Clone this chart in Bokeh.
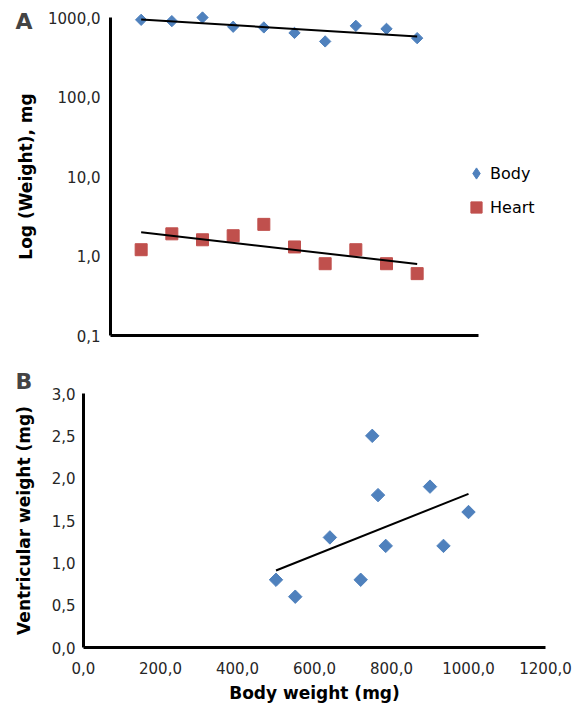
import numpy as np
from bokeh.plotting import figure
from bokeh.layouts import column
from bokeh.models import (FixedTicker, CustomJSTickFormatter, Legend, LegendItem,
                          Label, Range1d)
from bokeh.embed import file_html
from bokeh.resources import INLINE

# ---- data ----
sample_index = [1, 2, 3, 4, 5, 6, 7, 8, 9, 10]
body_weight_mg = [935, 900, 1000, 765, 750, 640, 500, 785, 720, 550]
heart_weight_mg = [1.2, 1.9, 1.6, 1.8, 2.5, 1.3, 0.8, 1.2, 0.8, 0.6]
log_ticks = [0.1, 1, 10, 100, 1000]
index_bounds = [0, 12]
body_ticks = [0, 200, 400, 600, 800, 1000, 1200]
vent_ticks = [0, 0.5, 1.0, 1.5, 2.0, 2.5, 3.0]

BLUE = "#4F81BD"
RED = "#C0504D"
comma_fmt = CustomJSTickFormatter(code="return tick.toFixed(1).replace('.', ',');")

# ---- layout geometry (pixels) ----
W, HA, HB = 583, 362, 343
A_x0, A_x12 = 110, 478          # x=0 / x=12 of panel A
A_ylo, A_yhi = 335, 17          # y=0.1 / y=1000 of panel A
B_x0, B_x1200 = 83, 545         # x=0 / x=1200 of panel B
B_y0, B_y3 = 285, 31            # y=0 / y=3 of panel B (figure coords)


def style_axes(p):
    p.outline_line_color = None
    p.xgrid.grid_line_color = None
    p.ygrid.grid_line_color = None
    for ax in (p.xaxis[0], p.yaxis[0]):
        ax.axis_line_color = "black"
        ax.axis_line_width = 3
        ax.major_tick_line_color = None
        ax.minor_tick_line_color = None
        ax.major_tick_out = 0
        ax.major_tick_in = 0
        ax.minor_tick_out = 0
        ax.minor_tick_in = 0
        ax.major_label_text_font = "DejaVu Sans"
        ax.major_label_text_font_size = "15px"
        ax.major_label_text_color = "#262626"
        ax.axis_label_text_font = "DejaVu Sans"
        ax.axis_label_text_font_style = "bold"
        ax.axis_label_text_font_size = "17px"
        ax.axis_label_text_color = "black"


# ---- Panel A ----
xsA = (A_x12 - A_x0) / index_bounds[1]
decA = (A_ylo - A_yhi) / (np.log10(log_ticks[-1]) - np.log10(log_ticks[0]))
xrA = Range1d(-A_x0 / xsA, (W - A_x0) / xsA)
yrA = Range1d(log_ticks[0] * 10 ** (-(HA - A_ylo) / decA),
              log_ticks[-1] * 10 ** (A_yhi / decA))

pA = figure(width=W, height=HA, output_backend="svg", toolbar_location=None,
            y_axis_type="log", x_range=xrA, y_range=yrA, title=None,
            min_border=0, min_border_left=0, min_border_right=0,
            min_border_top=0, min_border_bottom=0)
style_axes(pA)
pA.xaxis.ticker = FixedTicker(ticks=[])
pA.xaxis.fixed_location = log_ticks[0]
pA.xaxis.bounds = tuple(index_bounds)
pA.yaxis.ticker = FixedTicker(ticks=log_ticks)
pA.yaxis.formatter = comma_fmt
pA.yaxis.fixed_location = 0
pA.yaxis.bounds = (log_ticks[0], log_ticks[-1])
pA.yaxis.major_label_standoff = 10
pA.yaxis.axis_label = "Log (Weight), mg"
pA.yaxis.axis_label_standoff = 9

r_body = pA.scatter(sample_index, body_weight_mg, marker="square", angle=np.pi / 4,
                    size=8, color=BLUE)
r_heart = pA.scatter(sample_index, heart_weight_mg, marker="square", size=12, color=RED)
# hidden twin of the Body series, used only to draw a diamond key in the legend
r_body_key = pA.scatter(sample_index, body_weight_mg, marker="diamond", size=12,
                        color=BLUE, visible=False)

xi = np.array(sample_index, dtype=float)
xe = np.array([xi.min(), xi.max()])
b1, a1 = np.polyfit(xi, np.log10(body_weight_mg), 1)
pA.line(xe, 10 ** (a1 + b1 * xe), line_color="black", line_width=2)
b2, a2 = np.polyfit(xi, np.log10(heart_weight_mg), 1)
pA.line(xe, 10 ** (a2 + b2 * xe), line_color="black", line_width=2)

legend = Legend(items=[LegendItem(label="Body", renderers=[r_body_key]),
                       LegendItem(label="Heart", renderers=[r_heart])],
                location=(462, HA - 221), orientation="vertical",
                glyph_width=28, glyph_height=28, label_height=28, spacing=6,
                label_standoff=0, padding=0, margin=0, click_policy="none",
                border_line_color=None, background_fill_alpha=0,
                label_text_font="DejaVu Sans", label_text_font_size="16px",
                label_text_color="black")
pA.add_layout(legend)

pA.add_layout(Label(x=15, y=HA - 21, x_units="screen", y_units="screen", text="A",
                    text_font="DejaVu Sans", text_font_style="bold",
                    text_font_size="22px", text_baseline="alphabetic"))

# ---- Panel B ----
xsB = (B_x1200 - B_x0) / body_ticks[-1]
ysB = (B_y0 - B_y3) / vent_ticks[-1]
xrB = Range1d(-B_x0 / xsB, (W - B_x0) / xsB)
yrB = Range1d(-(HB - B_y0) / ysB, vent_ticks[-1] + B_y3 / ysB)

pB = figure(width=W, height=HB, output_backend="svg", toolbar_location=None,
            x_range=xrB, y_range=yrB, title=None,
            min_border=0, min_border_left=0, min_border_right=0,
            min_border_top=0, min_border_bottom=0)
style_axes(pB)
pB.xaxis.ticker = FixedTicker(ticks=body_ticks)
pB.yaxis.ticker = FixedTicker(ticks=vent_ticks)
pB.xaxis.formatter = comma_fmt
pB.yaxis.formatter = comma_fmt
pB.xaxis.fixed_location = 0
pB.yaxis.fixed_location = 0
pB.xaxis.bounds = (body_ticks[0], body_ticks[-1])
pB.yaxis.bounds = (vent_ticks[0], vent_ticks[-1])
pB.xaxis.major_label_standoff = 14
pB.yaxis.major_label_standoff = 8
pB.xaxis.axis_label = "Body weight (mg)"
pB.yaxis.axis_label = "Ventricular weight (mg)"
pB.xaxis.axis_label_standoff = 6
pB.yaxis.axis_label_standoff = 15

pB.scatter(body_weight_mg, heart_weight_mg, marker="square", angle=np.pi / 4,
           size=9.5, color=BLUE)
bx = np.array(body_weight_mg, dtype=float)
b3, a3 = np.polyfit(bx, np.array(heart_weight_mg, dtype=float), 1)
bxe = np.array([bx.min(), bx.max()])
pB.line(bxe, a3 + b3 * bxe, line_color="black", line_width=2)

pB.add_layout(Label(x=15, y=HB - 19, x_units="screen", y_units="screen", text="B",
                    text_font="DejaVu Sans", text_font_style="bold",
                    text_font_size="22px", text_baseline="alphabetic"))

layout = column(pA, pB, spacing=0)
open("out.html", "w").write(file_html(layout, INLINE))
